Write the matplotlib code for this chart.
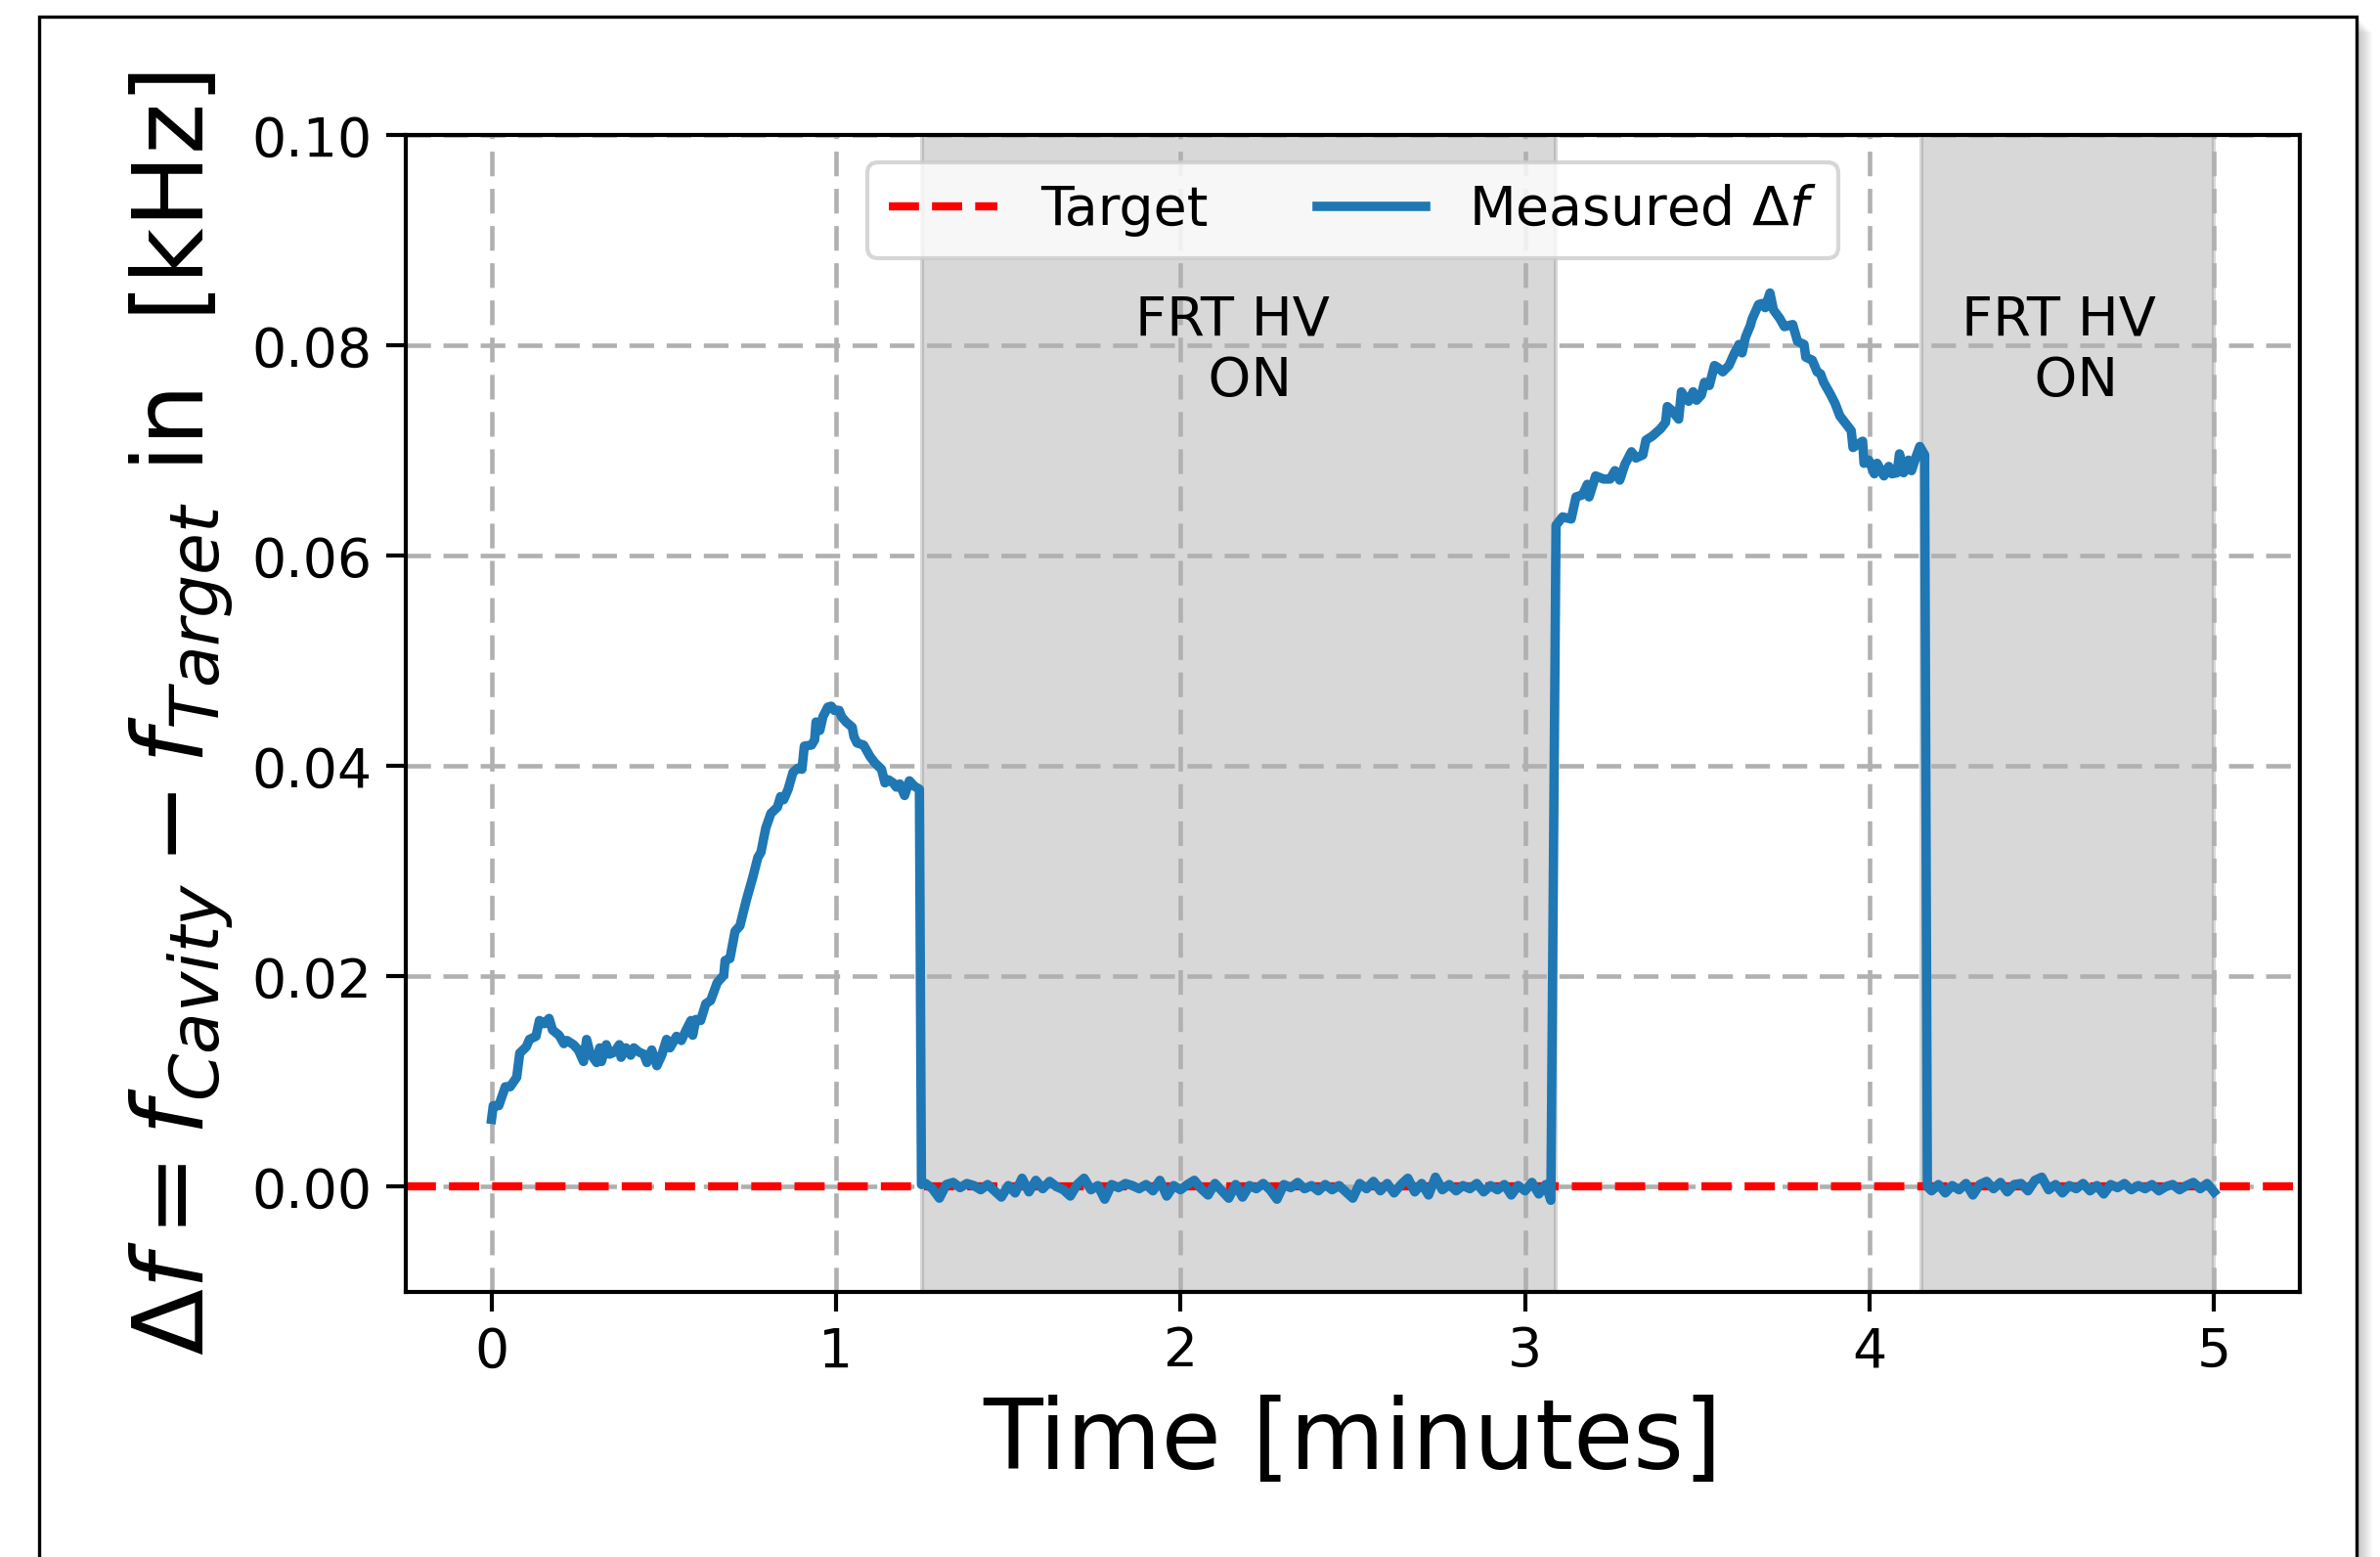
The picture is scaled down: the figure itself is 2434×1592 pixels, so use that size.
import numpy as np
import matplotlib
matplotlib.use('Agg')
import matplotlib.pyplot as plt
from matplotlib.patches import Rectangle

# --- dati (tempo in minuti, delta f in kHz) ---

# prima rampa, prima dell'accensione FRT HV
t_ramp1 = [0.000, 0.005, 0.021, 0.040, 0.054, 0.073, 0.082, 0.101, 0.110, 0.129,
           0.139, 0.153, 0.167, 0.177, 0.196, 0.210, 0.219, 0.238, 0.252, 0.267,
           0.276, 0.286, 0.305, 0.314, 0.319, 0.333, 0.343, 0.357, 0.371, 0.376,
           0.390, 0.404, 0.413, 0.428, 0.442, 0.451, 0.465, 0.480, 0.494, 0.508,
           0.518, 0.537, 0.551, 0.565, 0.579, 0.584, 0.593, 0.607, 0.622, 0.636,
           0.655, 0.674, 0.678, 0.692, 0.707, 0.721, 0.740, 0.759, 0.773, 0.782,
           0.796, 0.811, 0.830, 0.839, 0.848, 0.861, 0.875, 0.889, 0.901, 0.908,
           0.929, 0.938, 0.942, 0.953, 0.962, 0.976, 0.986, 0.995, 1.009, 1.016,
           1.029, 1.047, 1.052, 1.061, 1.080, 1.099, 1.113, 1.132, 1.142, 1.152,
           1.166, 1.175, 1.185, 1.199, 1.213, 1.227, 1.242]
df_ramp1 = [0.0064, 0.0077, 0.0077, 0.0095, 0.0095, 0.0104, 0.0127, 0.0133, 0.0140, 0.0143,
            0.0158, 0.0155, 0.0160, 0.0149, 0.0144, 0.0136, 0.0139, 0.0135, 0.0130, 0.0119,
            0.0140, 0.0127, 0.0118, 0.0132, 0.0119, 0.0135, 0.0126, 0.0128, 0.0135, 0.0123,
            0.0132, 0.0125, 0.0132, 0.0128, 0.0126, 0.0118, 0.0130, 0.0115, 0.0125, 0.0140,
            0.0132, 0.0143, 0.0139, 0.0149, 0.0158, 0.0144, 0.0159, 0.0158, 0.0174, 0.0177,
            0.0194, 0.0201, 0.0215, 0.0217, 0.0243, 0.0248, 0.0273, 0.0295, 0.0313, 0.0318,
            0.0341, 0.0355, 0.0361, 0.0371, 0.0368, 0.0378, 0.0394, 0.0398, 0.0397, 0.0419,
            0.0420, 0.0425, 0.0442, 0.0434, 0.0447, 0.0456, 0.0457, 0.0453, 0.0453, 0.0447,
            0.0442, 0.0437, 0.0428, 0.0422, 0.0420, 0.0409, 0.0403, 0.0397, 0.0384, 0.0387,
            0.0384, 0.0380, 0.0383, 0.0372, 0.0386, 0.0381, 0.0378]

# primo periodo con FRT HV acceso (regolazione attiva)
t_on1 = [1.248,
         1.26, 1.28, 1.30, 1.32, 1.34, 1.36, 1.38, 1.40, 1.42, 1.44,
         1.46, 1.48, 1.50, 1.52, 1.54, 1.56, 1.58, 1.60, 1.62, 1.64,
         1.66, 1.68, 1.70, 1.72, 1.74, 1.76, 1.78, 1.80, 1.82, 1.84,
         1.86, 1.88, 1.90, 1.92, 1.94, 1.96, 1.98, 2.00, 2.02, 2.04,
         2.06, 2.08, 2.10, 2.12, 2.14, 2.16, 2.18, 2.20, 2.22, 2.24,
         2.26, 2.28, 2.30, 2.32, 2.34, 2.36, 2.38, 2.40, 2.42, 2.44,
         2.46, 2.48, 2.50, 2.52, 2.54, 2.56, 2.58, 2.60, 2.62, 2.64,
         2.66, 2.68, 2.70, 2.72, 2.74, 2.76, 2.78, 2.80, 2.82, 2.84,
         2.86, 2.88, 2.90, 2.92, 2.94, 2.96, 2.98, 3.00, 3.02, 3.04,
         3.06, 3.075]
df_on1 = [0.0002,
          0.0003, -0.0002, -0.0011, 0.0002, 0.0004, -0.0001, 0.0003, 0.0001, -0.0003, 0.0002,
          -0.0004, -0.0010, 0.0001, -0.0006, 0.0008, -0.0005, 0.0006, -0.0002, 0.0005, 0.0000,
          -0.0003, -0.0009, 0.0002, 0.0008, -0.0003, 0.0001, -0.0012, 0.0002, -0.0001, 0.0003,
          0.0001, -0.0002, 0.0002, -0.0004, 0.0006, -0.0009, 0.0001, -0.0003, 0.0002, 0.0006,
          -0.0002, -0.0008, 0.0003, -0.0004, -0.0011, 0.0002, -0.0010, 0.0001, -0.0002, 0.0003,
          -0.0003, -0.0012, 0.0002, -0.0001, 0.0004, -0.0002, 0.0001, -0.0004, 0.0002, -0.0003,
          0.0001, -0.0005, -0.0011, 0.0003, -0.0002, 0.0005, -0.0004, 0.0003, -0.0006, 0.0002,
          0.0008, -0.0005, 0.0003, -0.0008, 0.0009, -0.0003, 0.0002, -0.0004, 0.0001, -0.0002,
          0.0003, -0.0005, 0.0001, -0.0003, 0.0002, -0.0008, 0.0001, -0.0004, 0.0004, -0.0007,
          0.0002, -0.0013]

# seconda rampa, HV spento
t_ramp2 = [3.090, 3.109, 3.134, 3.148, 3.167, 3.181, 3.186, 3.205, 3.228, 3.247,
           3.261, 3.275, 3.290, 3.309, 3.322, 3.342, 3.351, 3.370, 3.394, 3.408,
           3.413, 3.427, 3.446, 3.454, 3.465, 3.475, 3.488, 3.498, 3.512, 3.521,
           3.535, 3.550, 3.560, 3.574, 3.592, 3.607, 3.621, 3.630, 3.640, 3.654,
           3.659, 3.678, 3.688, 3.697, 3.711, 3.721, 3.739, 3.753, 3.777, 3.791,
           3.810, 3.815, 3.834, 3.848, 3.858, 3.867, 3.886, 3.900, 3.914, 3.933,
           3.947, 3.952, 3.966, 3.980, 3.984, 3.998, 4.014, 4.022, 4.042, 4.056,
           4.065, 4.080, 4.087, 4.099, 4.113, 4.122, 4.136, 4.146, 4.160]
df_ramp2 = [0.0629, 0.0637, 0.0635, 0.0656, 0.0658, 0.0668, 0.0656, 0.0676, 0.0673, 0.0673,
            0.0681, 0.0672, 0.0687, 0.0699, 0.0693, 0.0696, 0.0710, 0.0714, 0.0721, 0.0727,
            0.0742, 0.0738, 0.0730, 0.0756, 0.0750, 0.0747, 0.0756, 0.0748, 0.0753, 0.0765,
            0.0762, 0.0781, 0.0779, 0.0775, 0.0781, 0.0792, 0.0801, 0.0793, 0.0808, 0.0819,
            0.0825, 0.0839, 0.0840, 0.0836, 0.0850, 0.0834, 0.0826, 0.0818, 0.0820, 0.0804,
            0.0801, 0.0789, 0.0786, 0.0775, 0.0773, 0.0765, 0.0754, 0.0745, 0.0733, 0.0725,
            0.0719, 0.0703, 0.0706, 0.0709, 0.0688, 0.0691, 0.0678, 0.0688, 0.0676, 0.0685,
            0.0678, 0.0679, 0.0697, 0.0679, 0.0691, 0.0681, 0.0695, 0.0704, 0.0696]

# secondo periodo con FRT HV acceso
t_on2 = [4.168,
         4.18, 4.20, 4.22, 4.24, 4.26, 4.28, 4.30, 4.32, 4.34, 4.36,
         4.38, 4.40, 4.42, 4.44, 4.46, 4.48, 4.50, 4.52, 4.54, 4.56,
         4.58, 4.60, 4.62, 4.64, 4.66, 4.68, 4.70, 4.72, 4.74, 4.76,
         4.78, 4.80, 4.82, 4.84, 4.86, 4.88, 4.90, 4.92, 4.94, 4.96,
         4.98, 5.00]
df_on2 = [0.0000,
          -0.0004, 0.0002, -0.0006, 0.0001, -0.0003, 0.0003, -0.0008, 0.0002, 0.0005, -0.0002,
          0.0004, -0.0005, 0.0002, 0.0003, -0.0004, 0.0006, 0.0009, -0.0003, 0.0002, -0.0006,
          0.0001, -0.0002, 0.0003, -0.0004, 0.0001, -0.0007, 0.0002, -0.0001, 0.0003, -0.0003,
          0.0001, -0.0002, 0.0002, -0.0004, 0.0000, 0.0002, -0.0003, 0.0001, 0.0004, -0.0002,
          0.0003, -0.0005]

# intervalli con HV acceso (minuti)
hv_on = [(1.25, 3.09), (4.15, 5.00)]
hv_text_x = [2.15, 4.55]
target = 0.0

t_vals = np.array(t_ramp1 + t_on1 + t_ramp2 + t_on2)
df_vals = np.array(df_ramp1 + df_on1 + df_ramp2 + df_on2)

# --- figura ---
W, H, DPI = 2434, 1592, 300
fig = plt.figure(figsize=(W / DPI, H / DPI), dpi=DPI)
fig.patch.set_facecolor('white')

# cornice con ombra
fx0, fx1, ftop = 40 / W, 2410 / W, 1 - 17 / H
for k in range(1, 9):
    fig.add_artist(Rectangle((fx0 + 2 * k / W, -0.2 - 2 * k / H), fx1 - fx0, ftop + 0.2,
                             transform=fig.transFigure, facecolor='black',
                             edgecolor='none', alpha=0.03, zorder=-3))
fig.add_artist(Rectangle((fx0, -0.2), fx1 - fx0, ftop + 0.2, transform=fig.transFigure,
                         facecolor='white', edgecolor='black', lw=0.8, zorder=-2))

ax = fig.add_axes([0.17034, 0.17035, 0.79610, 0.74277])

for (a, b), xt in zip(hv_on, hv_text_x):
    ax.axvspan(a, b, color='grey', alpha=0.3)
    ax.text(xt, 0.0795, 'FRT HV\n  ON', ha='center', va='center',
            multialignment='center', fontsize=13.4)

ax.axhline(target, color='r', ls='--', lw=2, label='Target')
ax.plot(t_vals, df_vals, color='#1f77b4', lw=2.3, label=r'Measured $\Delta f$')

ax.set_xlim(-0.25, 5.25)
ax.set_ylim(-0.01, 0.10)
ax.set_xticks([0, 1, 2, 3, 4, 5])
ax.set_yticks([0.00, 0.02, 0.04, 0.06, 0.08, 0.10])
ax.yaxis.set_major_formatter(matplotlib.ticker.FormatStrFormatter('%.2f'))
ax.grid(True, color='#b0b0b0', lw=1.1, ls=(0, (5.5, 2.8)))
ax.tick_params(labelsize=13.3, length=4.8, width=1.0)
for s in ax.spines.values():
    s.set_linewidth(1.0)

ax.set_xlabel('Time [minutes]', fontsize=23.9)
ax.set_ylabel(r'$\Delta f = f_{Cavity} - f_{Target}$ in  [kHz]', fontsize=23.9)
ax.legend(loc='upper center', ncol=2, fontsize=13.3)

fig.savefig('out.png', dpi=DPI)
